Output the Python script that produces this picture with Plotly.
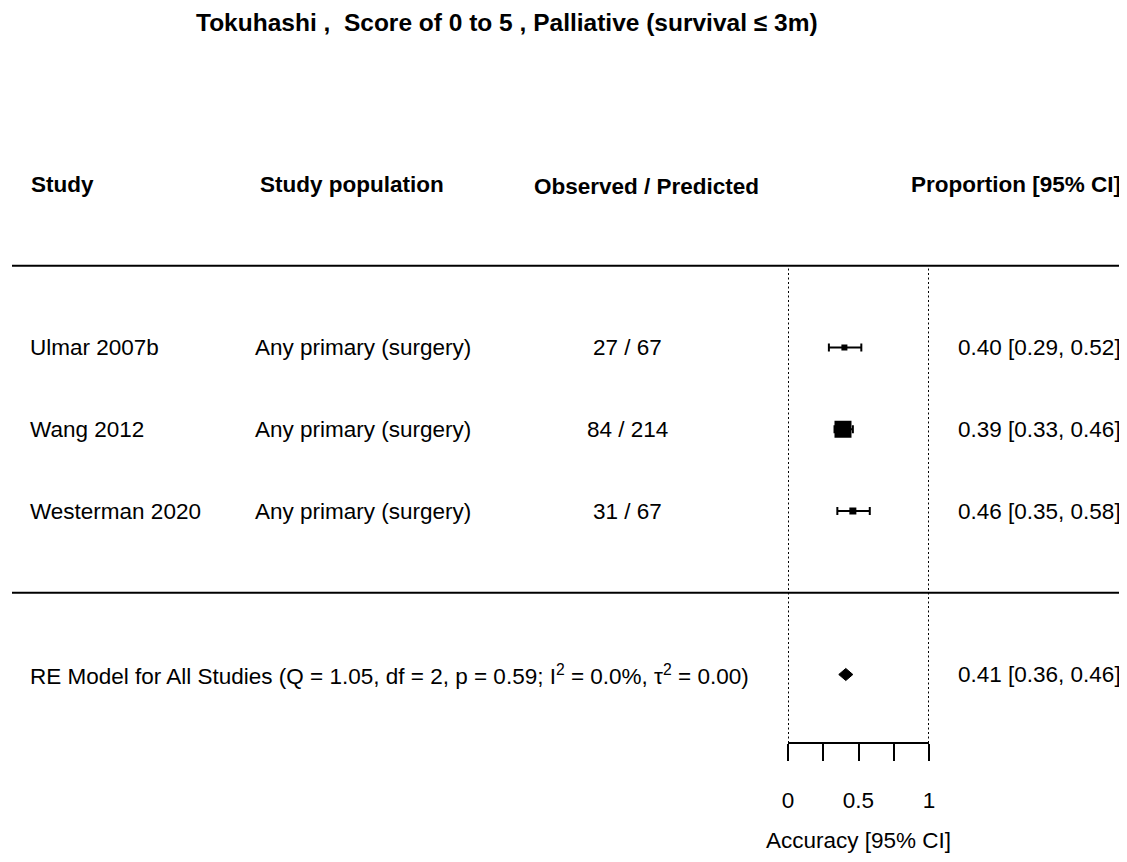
import plotly.graph_objects as go

# ---- data ----
studies = ["Ulmar 2007b", "Wang 2012", "Westerman 2020"]
populations = ["Any primary (surgery)", "Any primary (surgery)", "Any primary (surgery)"]
observed = [27, 84, 31]
predicted = [67, 214, 67]
est = [0.40, 0.39, 0.46]
ci_lo = [0.29, 0.33, 0.35]
ci_hi = [0.52, 0.46, 0.58]
marker_sizes = [6, 17, 7]
rows = [3, 2, 1]

re_label = "RE Model for All Studies (Q = 1.05, df = 2, p = 0.59; I<sup>2</sup> = 0.0%, τ<sup>2</sup> = 0.00)"
re_est, re_lo, re_hi = 0.41, 0.36, 0.46
re_row = -1

headers = ["Study", "Study population", "Observed / Predicted", "Proportion [95% CI]"]
title = "Tokuhashi ,  Score of 0 to 5 , Palliative (survival ≤ 3m)"
major_ticks = [0, 0.5, 1]
major_labels = ["0", "0.5", "1"]
minor_ticks = [0.25, 0.75]
ref_lines = [0, 1]
axis_title = "Accuracy [95% CI]"

# page body has an 8px margin: size the figure so the page fits the window
OFF = 8
W, H = 1127 - OFF, 862 - 2 * OFF
FONT = "Liberation Sans, Arial, sans-serif"
FS = 22.5


def px(x):
    return (x - OFF) / W


def py(y):
    return 1 - (y - OFF) / H


px_per_row = 81.75
y_ref = 511 - OFF  # pixel of row 1
y_top = 1 + y_ref / px_per_row
y_bot = 1 - (H - y_ref) / px_per_row
header_row = 5
line_rows = [4, 0]
axis_row = 1 - (743 - 511) / px_per_row

x_dom = [px(788), px(929)]

fig = go.Figure()

fig.add_trace(go.Scatter(
    x=est, y=rows, mode="markers",
    marker=dict(symbol="square", size=marker_sizes, color="black",
                opacity=1, line=dict(width=0)),
    error_x=dict(type="data", symmetric=False,
                 array=[h - e for h, e in zip(ci_hi, est)],
                 arrayminus=[e - l for l, e in zip(ci_lo, est)],
                 color="black", thickness=2, width=4),
    showlegend=False, hoverinfo="skip", cliponaxis=False,
))

dh = 0.074
fig.add_trace(go.Scatter(
    x=[re_lo, re_est, re_hi, re_est, re_lo],
    y=[re_row, re_row + dh, re_row, re_row - dh, re_row],
    mode="lines", fill="toself", fillcolor="black",
    line=dict(color="black", width=1),
    showlegend=False, hoverinfo="skip",
))

for v in ref_lines:
    fig.add_shape(type="line", xref="x", yref="y", x0=v, x1=v,
                  y0=axis_row, y1=line_rows[0],
                  line=dict(color="black", width=2, dash="2px,2.5px"))

for r in line_rows:
    fig.add_shape(type="line", xref="paper", yref="y", x0=px(12), x1=1,
                  y0=r, y1=r, line=dict(color="black", width=2))

ann = []
tf = dict(family=FONT, size=FS, color="black")

ann.append(dict(text="<b>" + headers[0] + "</b>", x=px(29), y=header_row, xanchor="left", font=tf))
ann.append(dict(text="<b>" + headers[1] + "</b>", x=px(258), y=header_row, xanchor="left", font=tf))
ann.append(dict(text="<b>" + headers[2] + "</b>", x=px(646), y=header_row - 0.03, xanchor="center", font=tf))
ann.append(dict(text="<b>" + headers[3] + "</b>", x=px(1123), y=header_row, xanchor="right", font=tf))

for s, p, o, pr, e, l, h, r in zip(studies, populations, observed, predicted, est, ci_lo, ci_hi, rows):
    ann.append(dict(text=s, x=px(28), y=r, xanchor="left", font=tf))
    ann.append(dict(text=p, x=px(253), y=r, xanchor="left", font=tf))
    ann.append(dict(text=f"{o} / {pr}", x=px(627), y=r, xanchor="center", font=tf))
    ann.append(dict(text=f"{e:.2f} [{l:.2f}, {h:.2f}]", x=px(1123), y=r, xanchor="right", font=tf))

ann.append(dict(text=re_label, x=px(28), y=re_row, xanchor="left", font=tf))
ann.append(dict(text=f"{re_est:.2f} [{re_lo:.2f}, {re_hi:.2f}]", x=px(1123), y=re_row, xanchor="right", font=tf))

for a in ann:
    a.update(xref="paper", yref="y", yanchor="middle", showarrow=False)
    fig.add_annotation(**a)

fig.add_annotation(text="<b>" + title + "</b>", xref="paper", yref="paper",
                   x=px(507), y=py(22), xanchor="center", yanchor="middle",
                   showarrow=False, font=dict(family=FONT, size=24.5, color="black"))

fig.add_annotation(text=axis_title, xref="paper", yref="paper",
                   x=px(858), y=py(840), xanchor="center", yanchor="middle",
                   showarrow=False, font=tf)

fig.update_layout(
    width=W, height=H,
    margin=dict(l=0, r=0, t=0, b=0, pad=0, autoexpand=False),
    paper_bgcolor="white", plot_bgcolor="white",
    xaxis=dict(domain=x_dom, range=[0, 1], anchor="free", position=py(743),
               automargin=False,
               showline=True, linecolor="black", linewidth=2,
               ticks="outside", ticklen=17, tickwidth=2, tickcolor="black",
               tickvals=major_ticks, ticktext=major_labels,
               minor=dict(tickvals=minor_ticks, ticks="outside", ticklen=17,
                          tickwidth=2, tickcolor="black", showgrid=False),
               ticklabelstandoff=20,
               tickfont=dict(family=FONT, size=FS, color="black"),
               showgrid=False, zeroline=False, fixedrange=True),
    yaxis=dict(domain=[0, 1], range=[y_bot, y_top], visible=False, automargin=False,
               showgrid=False, zeroline=False, fixedrange=True),
)

fig.write_html("out.html")
